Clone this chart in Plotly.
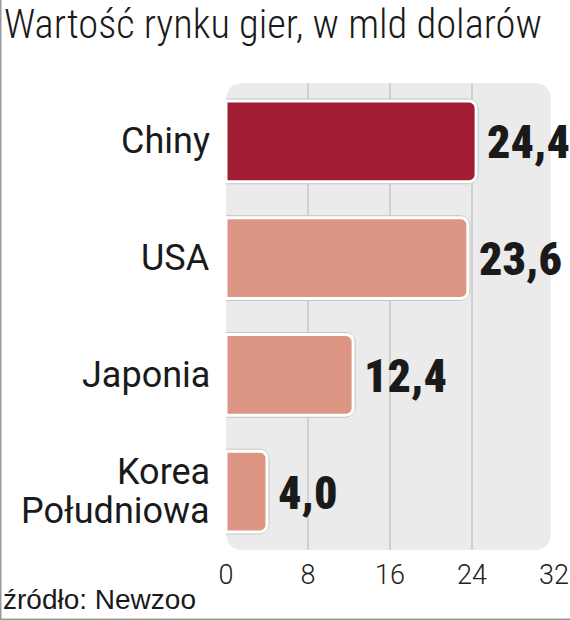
import plotly.graph_objects as go

categories = ["Chiny", "USA", "Japonia", "Korea Południowa"]
category_lines = [["Chiny"], ["USA"], ["Japonia"], ["Korea", "Południowa"]]
values = [24.4, 23.6, 12.4, 4.0]
bar_colors = ["#a11d33", "#dd9683", "#dd9683", "#dd9683"]
x_ticks = [0, 8, 16, 24, 32]
grid_vals = [8, 16, 24]
title_text = "Wartość rynku gier, w mld dolarów"
source_text = "źródło: Newzoo"

W, H = 570, 620
ML, MR, MT, MB = 226, 16, 83, 70
PW, PH = W - ML - MR, H - MT - MB

def px_x(p):
    return (p - ML) / PW

def px_y(p):
    return (H - MB - p) / PH

labels = [f"{v:.1f}".replace(".", ",") for v in values]

fig = go.Figure()
# soft outline (shadow) behind each bar
fig.add_trace(go.Bar(
    y=categories, x=values, orientation="h",
    marker=dict(color="#c4c4c4", line=dict(color="#c4c4c4", width=5), cornerradius=8),
    width=0.69, hoverinfo="skip",
))
fig.add_trace(go.Bar(
    y=categories, x=values, orientation="h",
    marker=dict(color=bar_colors, line=dict(color="white", width=3), cornerradius=7),
    width=0.69, hoverinfo="skip",
))

# value labels
for c, v, t in zip(categories, values, labels):
    fig.add_annotation(x=v, y=c, text=t, showarrow=False, xanchor="left",
                       xshift=9, yshift=-1,
                       font=dict(family="Roboto Condensed, Open Sans Condensed, sans-serif",
                                 size=46, color="#1a1a1a", weight=900))

# category labels
for c, lines in zip(categories, category_lines):
    n = len(lines)
    for i, ln in enumerate(lines):
        fig.add_annotation(x=0, y=c, text=ln, showarrow=False, xanchor="right",
                           xref="x", yref="y", xshift=-14,
                           yshift=(n - 1) * 19.5 - i * 39,
                           font=dict(family="Roboto", size=36, color="#1a1a1a"))

# rounded background
x1 = 31.7
r = 18
bx0, bx1 = ML, ML + PW * (x1 / 32)
by0, by1 = MT, H - MB
def P(xp, yp):
    return f"{px_x(xp)},{px_y(yp)}"
path = (f"M {P(bx0 + r, by0)} L {P(bx1 - r, by0)} Q {P(bx1, by0)} {P(bx1, by0 + r)} "
        f"L {P(bx1, by1 - r)} Q {P(bx1, by1)} {P(bx1 - r, by1)} "
        f"L {P(bx0 + r, by1)} Q {P(bx0, by1)} {P(bx0, by1 - r)} "
        f"L {P(bx0, by0 + r)} Q {P(bx0, by0)} {P(bx0 + r, by0)} Z")
fig.add_shape(type="path", path=path, xref="paper", yref="paper",
              fillcolor="#ebebeb", line=dict(width=0), layer="below")
for g in grid_vals:
    fig.add_shape(type="line", x0=g, x1=g, y0=0, y1=1, xref="x", yref="paper",
                  line=dict(color="#b5b5b5", width=1), layer="below")

# frame lines at left and bottom of image
fig.add_shape(type="line", xref="paper", yref="paper",
              x0=px_x(0.75), x1=px_x(0.75), y0=px_y(0), y1=px_y(H),
              line=dict(color="#9a9a9a", width=1.5))
fig.add_shape(type="line", xref="paper", yref="paper",
              x0=px_x(0), x1=px_x(W), y0=px_y(H - 0.75), y1=px_y(H - 0.75),
              line=dict(color="#9a9a9a", width=1.5))

fig.add_annotation(text=title_text, xref="paper", yref="paper",
                   x=px_x(2), y=px_y(-2), xanchor="left", yanchor="top", showarrow=False,
                   font=dict(family="Roboto Condensed, Roboto", size=40.5, color="#1a1a1a", weight=300))
fig.add_annotation(text=source_text, xref="paper", yref="paper",
                   x=px_x(1), y=px_y(617), xanchor="left", yanchor="bottom", showarrow=False,
                   font=dict(family="Liberation Sans, Arial", size=28, color="#1a1a1a"))

fig.update_layout(
    width=W, height=H,
    margin=dict(l=ML, r=MR, t=MT, b=MB, autoexpand=False),
    paper_bgcolor="white", plot_bgcolor="rgba(0,0,0,0)",
    showlegend=False, barmode="overlay",
    xaxis=dict(range=[0, 32], tickvals=x_ticks, showgrid=False, zeroline=False,
               showline=False, ticks="", ticklabelstandoff=6, automargin=False,
               tickfont=dict(family="Roboto", size=27, color="#222", weight=300)),
    yaxis=dict(autorange="reversed", showgrid=False, zeroline=False, showline=False,
               ticks="", showticklabels=False, automargin=False),
)

fig.write_html("out.html", config={"displayModeBar": False},
               post_script="document.body.style.margin='0';document.body.style.overflow='hidden';")
